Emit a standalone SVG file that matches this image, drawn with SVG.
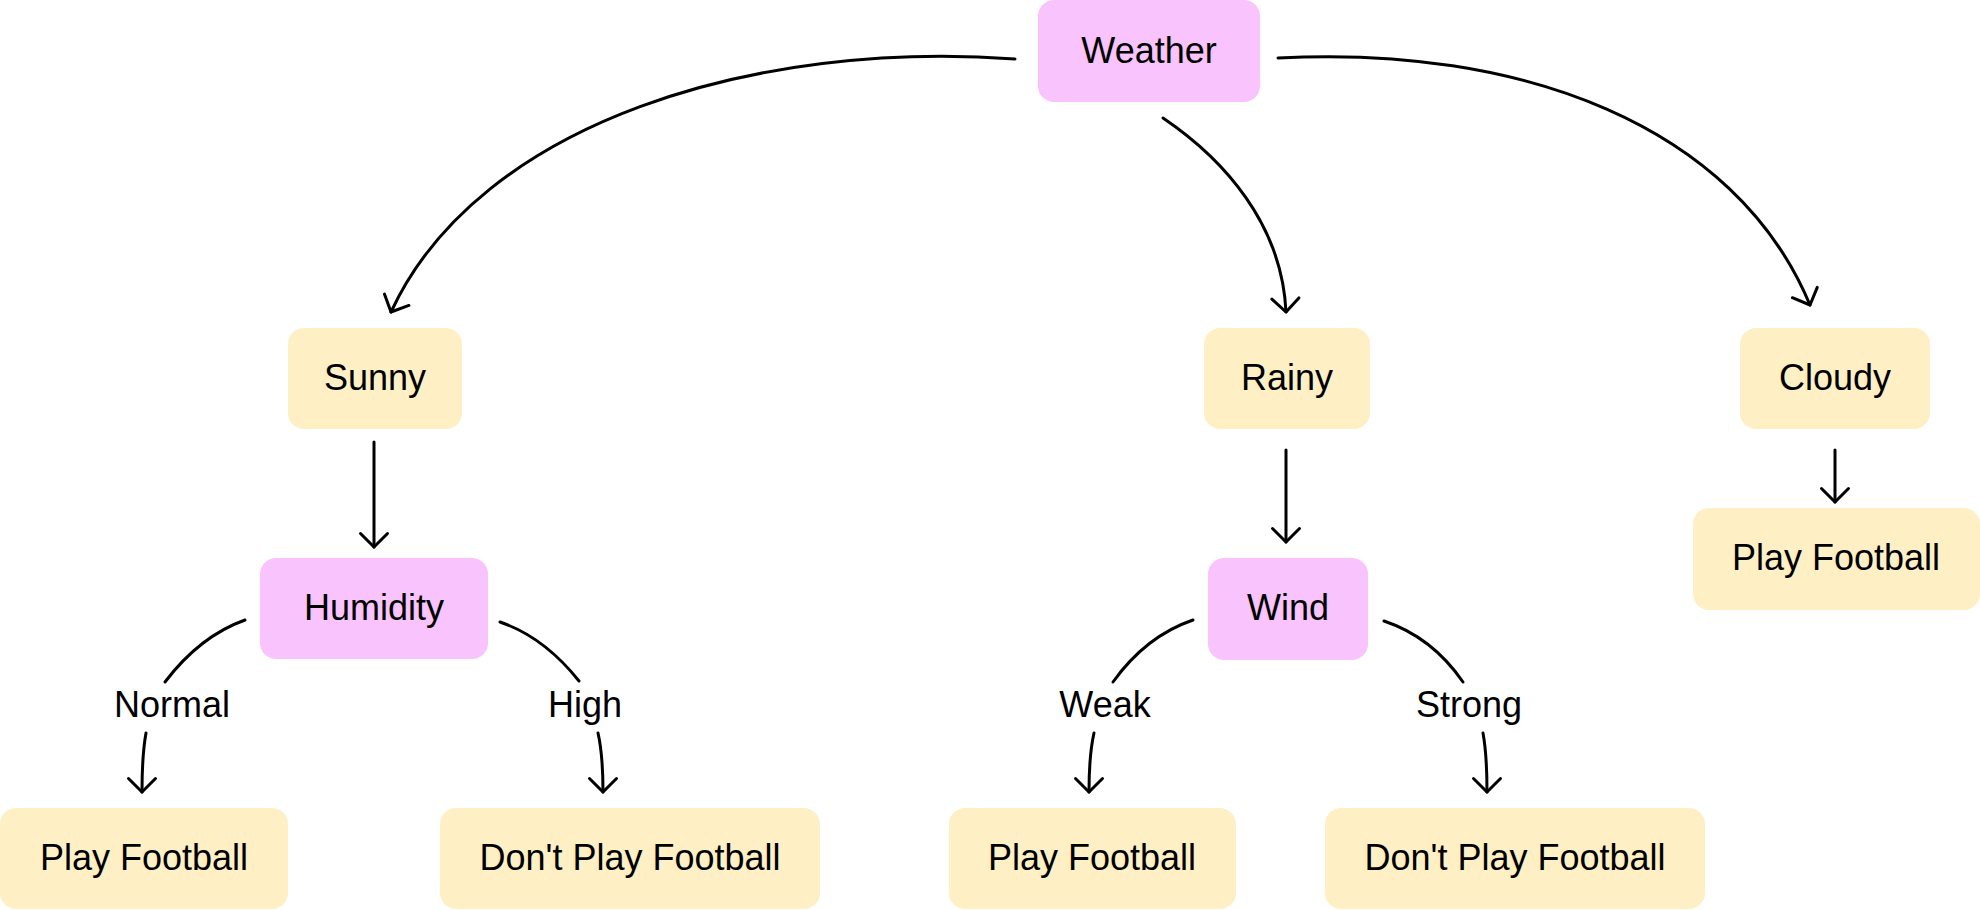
<svg xmlns="http://www.w3.org/2000/svg" width="1980" height="910" viewBox="0 0 1980 910">
<style>
.pink{fill:#f9c3fd}
.yel{fill:#fef0c4}
text{font-family:"Liberation Sans",Arial,sans-serif;font-size:36px;fill:#000;text-anchor:middle}
.c{fill:none;stroke:#000;stroke-width:3;stroke-linecap:round}
</style>
<defs>
<marker id="ah" markerUnits="userSpaceOnUse" markerWidth="40" markerHeight="40" viewBox="-20 -20 40 40" refX="0" refY="0" orient="auto">
<path d="M-13.5,-13.5 L0,0 L-13.5,13.5" fill="none" stroke="#000" stroke-width="3" stroke-linecap="round" stroke-linejoin="round"/>
</marker>
</defs>
<rect width="1980" height="910" fill="#fff"/>
<g id="connectors">
<path class="c" d="M1015,59 C760,40 480,120 391,312" marker-end="url(#ah)"/>
<path class="c" d="M1163,118 C1225,160 1282,225 1286,312" marker-end="url(#ah)"/>
<path class="c" d="M1278,58 C1520,45 1735,125 1810,305" marker-end="url(#ah)"/>
<path class="c" d="M374,442 L374,547" marker-end="url(#ah)"/>
<path class="c" d="M1286,450 L1286,542" marker-end="url(#ah)"/>
<path class="c" d="M1835,450 L1835,502" marker-end="url(#ah)"/>
<path class="c" d="M245,620 Q200,636 165,682"/>
<path class="c" d="M146,733 Q142,755 142,792" marker-end="url(#ah)"/>
<path class="c" d="M500,622 Q544,637 579,681"/>
<path class="c" d="M598,733 Q603,755 603,792" marker-end="url(#ah)"/>
<path class="c" d="M1193,620 Q1146,636 1113,682"/>
<path class="c" d="M1094,733 Q1089,755 1089,792" marker-end="url(#ah)"/>
<path class="c" d="M1384,621 Q1432,637 1463,682"/>
<path class="c" d="M1483,733 Q1487,755 1487,792" marker-end="url(#ah)"/>
<text x="172" y="717">Normal</text>
<text x="585" y="717">High</text>
<text x="1105" y="717">Weak</text>
<text x="1469" y="717">Strong</text>
</g>
<g id="weather"><rect class="pink" x="1038" y="0" width="222" height="102" rx="16"/><text x="1149" y="63">Weather</text></g>
<g id="sunny"><rect class="yel" x="288" y="328" width="174" height="101" rx="16"/><text x="375" y="390">Sunny</text></g>
<g id="rainy"><rect class="yel" x="1204" y="328" width="166" height="101" rx="16"/><text x="1287" y="390">Rainy</text></g>
<g id="cloudy"><rect class="yel" x="1740" y="328" width="190" height="101" rx="16"/><text x="1835" y="390">Cloudy</text></g>
<g id="humidity"><rect class="pink" x="260" y="558" width="228" height="101" rx="16"/><text x="374" y="620">Humidity</text></g>
<g id="wind"><rect class="pink" x="1208" y="558" width="160" height="102" rx="16"/><text x="1288" y="620">Wind</text></g>
<g id="play3"><rect class="yel" x="1693" y="508" width="287" height="102" rx="16"/><text x="1836" y="570">Play Football</text></g>
<g id="play1"><rect class="yel" x="0" y="808" width="288" height="101" rx="16"/><text x="144" y="870">Play Football</text></g>
<g id="noplay1"><rect class="yel" x="440" y="808" width="380" height="101" rx="16"/><text x="630" y="870">Don't Play Football</text></g>
<g id="play2"><rect class="yel" x="949" y="808" width="287" height="101" rx="16"/><text x="1092" y="870">Play Football</text></g>
<g id="noplay2"><rect class="yel" x="1325" y="808" width="380" height="101" rx="16"/><text x="1515" y="870">Don't Play Football</text></g>
</svg>
